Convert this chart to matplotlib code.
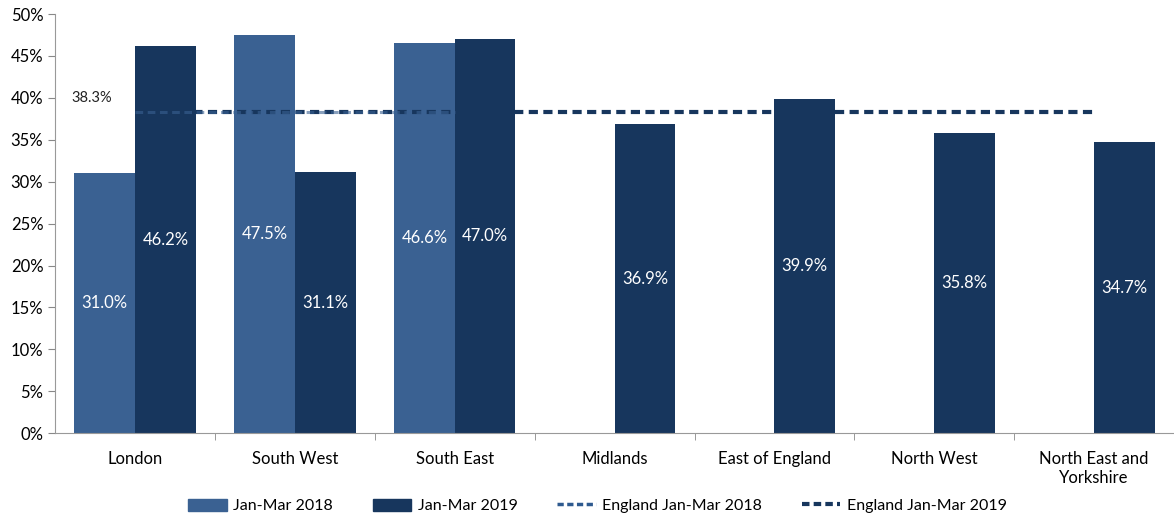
import numpy as np
import matplotlib
matplotlib.use("Agg")
import matplotlib.pyplot as plt
from matplotlib.ticker import PercentFormatter

# data
regions = ["London", "South West", "South East", "Midlands",
           "East of England", "North West", "North East and\nYorkshire"]
jan_mar_2018 = [31.0, 47.5, 46.6, None, None, None, None]
jan_mar_2019 = [46.2, 31.1, 47.0, 36.9, 39.9, 35.8, 34.7]
england_2018 = 38.3
england_2019 = 38.3
england_2018_regions = 3   # line only spans the first three regions

col_2018 = "#3a6192"
col_2019 = "#17365d"

plt.rcParams['font.family'] = ['Lato', 'DejaVu Sans']

fig = plt.figure(figsize=(11.74, 5.2), dpi=100)
ax = fig.add_axes([0.047, 0.167, 0.953, 0.806])

x = np.arange(len(regions))
w = 0.38

for i, v in enumerate(jan_mar_2018):
    if v is None:
        continue
    ax.bar(x[i] - w / 2, v, w, color=col_2018, zorder=2)
    ax.text(x[i] - w / 2, v / 2, f"{v:.1f}%", color="white", ha="center",
            va="center", fontsize=12, zorder=4)

for i, v in enumerate(jan_mar_2019):
    ax.bar(x[i] + w / 2, v, w, color=col_2019, zorder=2)
    ax.text(x[i] + w / 2, v / 2, f"{v:.1f}%", color="white", ha="center",
            va="center", fontsize=12, zorder=4)

# England averages
ax.plot(x, [england_2019] * len(x), color=col_2019, lw=3,
        ls=(0, (2.2, 1.3)), zorder=3)
ax.plot(x[:england_2018_regions], [england_2018] * england_2018_regions,
        color="#3a6192", lw=2.2, ls=(0, (2.5, 1.5)), zorder=3, alpha=0.6)
ax.text(-0.4, england_2019 + 0.9, f"{england_2019}%", fontsize=10.5,
        color="#222222", va="bottom")

ax.set_xlim(-0.5, 6.5)
ax.set_ylim(0, 50)
ax.set_yticks(np.arange(0, 51, 5))
ax.yaxis.set_major_formatter(PercentFormatter(decimals=0))
ax.set_xticks(x)
ax.set_xticklabels(regions, fontsize=12)
ax.set_xticks(np.arange(0.5, 6.5, 1), minor=True)
ax.tick_params(axis="x", which="major", length=0, pad=13)
ax.tick_params(axis="x", which="minor", length=5, color="#888888")
ax.tick_params(axis="y", length=5, color="#888888", labelsize=12)

for s in ["top", "right"]:
    ax.spines[s].set_visible(False)
for s in ["left", "bottom"]:
    ax.spines[s].set_color("#999999")

# legend
h = [plt.Rectangle((0, 0), 1, 1, color=col_2018),
     plt.Rectangle((0, 0), 1, 1, color=col_2019),
     plt.Line2D([], [], color="#2f5a8f", lw=2.5, ls=(0, (1.8, 1.0))),
     plt.Line2D([], [], color=col_2019, lw=3, ls=(0, (1.8, 1.0)))]
labels = ["Jan-Mar 2018", "Jan-Mar 2019", "England Jan-Mar 2018", "England Jan-Mar 2019"]
fig.legend(h, labels, loc="center", bbox_to_anchor=(0.509, 0.027), ncol=4,
           frameon=False, fontsize=11.5, handlelength=2.4, handleheight=0.8,
           handletextpad=0.4, columnspacing=2.5)

fig.savefig("out.png", dpi=100)
